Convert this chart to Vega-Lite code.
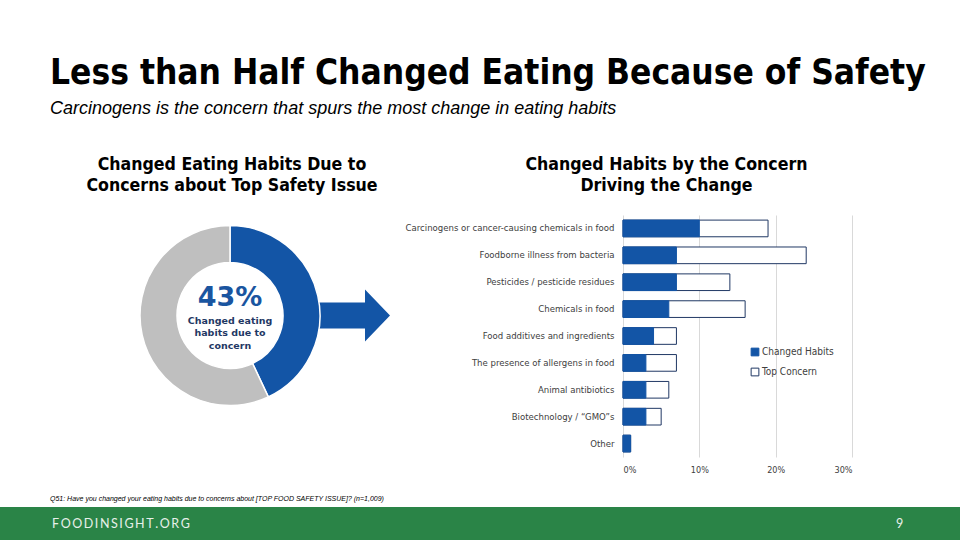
{
  "$schema": "https://vega.github.io/schema/vega-lite/v6.json",
  "background": "white",
  "padding": {"top": 56, "left": 0, "right": 0, "bottom": 0},
  "config": {"view": {"stroke": null}, "font": "DejaVu Sans"},
  "title": {
    "text": "Less than Half Changed Eating Because of Safety",
    "subtitle": "Carcinogens is the concern that spurs the most change in eating habits",
    "anchor": "start",
    "frame": "group",
    "dx": 50,
    "font": "DejaVu Sans Condensed, DejaVu Sans",
    "fontSize": 35,
    "fontWeight": "bold",
    "color": "#000000",
    "subtitleFont": "Liberation Sans",
    "subtitleFontSize": 18,
    "subtitleFontStyle": "italic",
    "subtitleColor": "#000000",
    "subtitlePadding": 9,
    "offset": 38
  },
  "spacing": 21,
  "vconcat": [
    {
      "bounds": "flush",
      "spacing": 163,
      "hconcat": [
        {
          "width": 460,
          "height": 201,
          "title": {
            "text": ["Changed Eating Habits Due to", "Concerns about Top Safety Issue"],
            "anchor": "middle",
            "dx": 2,
            "font": "DejaVu Sans Condensed, DejaVu Sans",
            "fontSize": 17.6,
            "fontWeight": "bold",
            "color": "#000000",
            "lineHeight": 21,
            "offset": 20
          },
          "data": {"values": [
            {"group": "Changed eating habits due to concern", "pct": 0.43},
            {"group": "Did not change", "pct": 0.57}
          ]},
          "layer": [
            {
              "transform": [{"filter": "datum.pct < 0.5"}],
              "mark": {"type": "point", "shape": "M 8 -1.3 L 13.5 -1.3 L 13.5 -2.6 L 16 0 L 13.5 2.6 L 13.5 1.3 L 8 1.3 Z", "size": 400, "filled": true, "color": "#1355A6", "opacity": 1, "strokeWidth": 0},
              "encoding": {}
            },
            {
              "mark": {"type": "arc", "outerRadius": 90, "innerRadius": 53, "stroke": "#FFFFFF", "strokeWidth": 1.5},
              "encoding": {
                "theta": {"field": "pct", "type": "quantitative", "stack": true},
                "color": {"field": "group", "type": "nominal", "scale": {"domain": ["Changed eating habits due to concern", "Did not change"], "range": ["#1355A6", "#BFBFBF"]}, "legend": null},
                "order": {"field": "group", "sort": "ascending"}
              }
            },
            {
              "transform": [{"filter": "datum.pct < 0.5"}],
              "mark": {"type": "text", "font": "DejaVu Sans", "fontWeight": "bold", "fontSize": 27, "color": "#1A55A0", "baseline": "alphabetic", "dy": -10},
              "encoding": {"text": {"field": "pct", "type": "quantitative", "format": ".0%"}}
            },
            {
              "transform": [{"filter": "datum.pct < 0.5"}],
              "mark": {"type": "text", "text": ["Changed eating", "habits due to", "concern"], "font": "DejaVu Sans", "fontWeight": "bold", "fontSize": 9.5, "color": "#1F3864", "baseline": "alphabetic", "dy": 8, "lineHeight": 12.5},
              "encoding": {}
            }
          ]
        },
        {
          "width": 229,
          "height": 242,
          "title": {
            "text": ["Changed Habits by the Concern", "Driving the Change"],
            "anchor": "middle",
            "dx": -71,
            "font": "DejaVu Sans Condensed, DejaVu Sans",
            "fontSize": 17.6,
            "fontWeight": "bold",
            "color": "#000000",
            "lineHeight": 21,
            "offset": 20
          },
          "data": {"values": [
            {"concern": "Carcinogens or cancer-causing chemicals in food", "series": "Top Concern", "value": 0.19},
            {"concern": "Foodborne illness from bacteria", "series": "Top Concern", "value": 0.24},
            {"concern": "Pesticides / pesticide residues", "series": "Top Concern", "value": 0.14},
            {"concern": "Chemicals in food", "series": "Top Concern", "value": 0.16},
            {"concern": "Food additives and ingredients", "series": "Top Concern", "value": 0.07},
            {"concern": "The presence of allergens in food", "series": "Top Concern", "value": 0.07},
            {"concern": "Animal antibiotics", "series": "Top Concern", "value": 0.06},
            {"concern": "Biotechnology / “GMO”s", "series": "Top Concern", "value": 0.05},
            {"concern": "Other", "series": "Top Concern", "value": 0.01},
            {"concern": "Carcinogens or cancer-causing chemicals in food", "series": "Changed Habits", "value": 0.10},
            {"concern": "Foodborne illness from bacteria", "series": "Changed Habits", "value": 0.07},
            {"concern": "Pesticides / pesticide residues", "series": "Changed Habits", "value": 0.07},
            {"concern": "Chemicals in food", "series": "Changed Habits", "value": 0.06},
            {"concern": "Food additives and ingredients", "series": "Changed Habits", "value": 0.04},
            {"concern": "The presence of allergens in food", "series": "Changed Habits", "value": 0.03},
            {"concern": "Animal antibiotics", "series": "Changed Habits", "value": 0.03},
            {"concern": "Biotechnology / “GMO”s", "series": "Changed Habits", "value": 0.03},
            {"concern": "Other", "series": "Changed Habits", "value": 0.01}
          ]},
          "encoding": {
            "y": {
              "field": "concern", "type": "nominal",
              "sort": ["Carcinogens or cancer-causing chemicals in food", "Foodborne illness from bacteria", "Pesticides / pesticide residues", "Chemicals in food", "Food additives and ingredients", "The presence of allergens in food", "Animal antibiotics", "Biotechnology / “GMO”s", "Other"],
              "scale": {"paddingInner": 0.38, "paddingOuter": 0.19},
              "axis": {"title": null, "ticks": false, "domain": false, "labelPadding": 9, "labelFont": "DejaVu Sans Condensed, DejaVu Sans", "labelFontSize": 9.5, "labelColor": "#404040", "labelLimit": 300}
            },
            "x": {
              "field": "value", "type": "quantitative", "stack": null,
              "scale": {"domain": [0, 0.3]},
              "axis": {"format": ".0%", "values": [0, 0.1, 0.2, 0.3], "title": null, "grid": true, "gridColor": "#D9D9D9", "ticks": false, "domain": false, "labelFont": "DejaVu Sans Condensed, DejaVu Sans", "labelFontSize": 9, "labelColor": "#404040", "labelPadding": 8}
            },
            "fill": {
              "field": "series", "type": "nominal",
              "scale": {"domain": ["Changed Habits", "Top Concern"], "range": ["#1355A6", "#FFFFFF"]},
              "legend": {"orient": "none", "legendX": 750, "legendY": 132, "title": null, "symbolType": "square", "symbolSize": 60, "symbolStrokeWidth": 1, "labelFont": "DejaVu Sans Condensed, DejaVu Sans", "labelFontSize": 10, "labelColor": "#404040", "rowPadding": 8, "labelOffset": 2}
            },
            "stroke": {
              "field": "series", "type": "nominal",
              "scale": {"domain": ["Changed Habits", "Top Concern"], "range": ["#1355A6", "#203864"]},
              "legend": {"orient": "none", "legendX": 750, "legendY": 132, "title": null, "symbolType": "square", "symbolSize": 60, "symbolStrokeWidth": 1, "labelFont": "DejaVu Sans Condensed, DejaVu Sans", "labelFontSize": 10, "labelColor": "#404040", "rowPadding": 8, "labelOffset": 2}
            }
          },
          "layer": [
            {"transform": [{"filter": "datum.series == 'Top Concern'"}], "mark": {"type": "bar", "strokeWidth": 1}},
            {"transform": [{"filter": "datum.series == 'Changed Habits'"}], "mark": {"type": "bar", "strokeWidth": 1}}
          ]
        }
      ]
    },
    {
      "width": 960,
      "height": 33,
      "view": {"fill": "#2A8447", "stroke": null},
      "title": {
        "text": "Q51: Have you changed your eating habits due to concerns about [TOP FOOD SAFETY ISSUE]? (n=1,009)",
        "anchor": "start", "frame": "group", "dx": 50,
        "font": "Liberation Sans", "fontSize": 7, "fontStyle": "italic", "fontWeight": "normal", "color": "#000000", "offset": 5
      },
      "data": {"values": [
        {"label": "F\u2009O\u2009O\u2009D\u2009I\u2009N\u2009S\u2009I\u2009G\u2009H\u2009T\u2009.\u2009O\u2009R\u2009G", "side": "left"},
        {"label": "9", "side": "right"}
      ]},
      "mark": {"type": "text", "align": "left", "baseline": "middle", "font": "Lato", "fontSize": 12.5, "color": "#E8F0EA"},
      "encoding": {
        "x": {"field": "side", "type": "nominal", "scale": {"type": "point", "padding": 0, "domain": ["left", "right"], "range": [52, 896]}, "axis": null},
        "text": {"field": "label"}
      }
    }
  ]
}
